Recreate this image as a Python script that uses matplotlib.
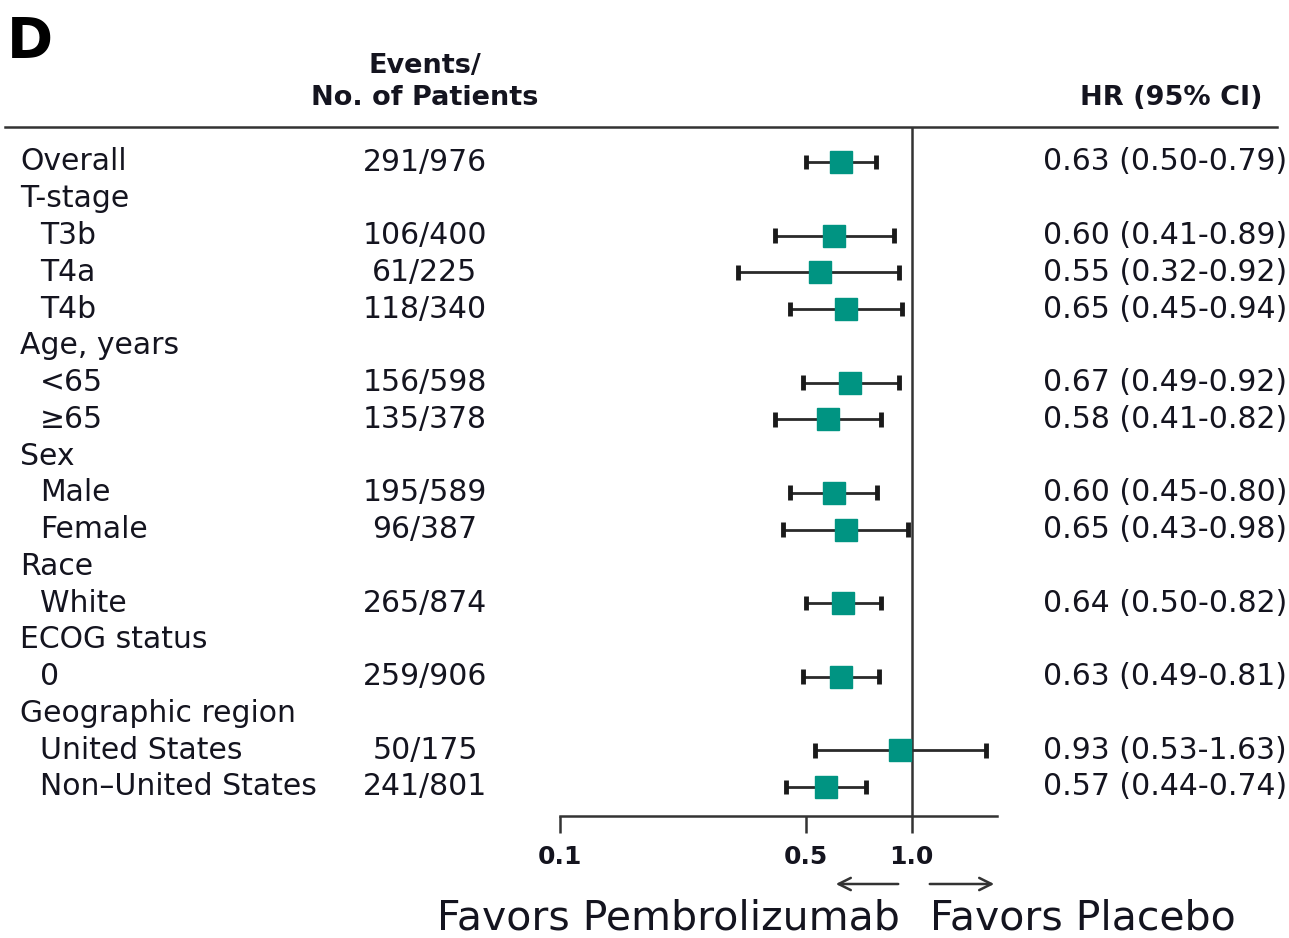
import numpy as np
import matplotlib
matplotlib.use("Agg")
import matplotlib.pyplot as plt

plt.rcParams['font.family'] = ['DejaVu Sans']

# rows of the forest plot (None = group heading without estimate)
labels = ["Overall", "T-stage", "T3b", "T4a", "T4b", "Age, years", "<65", "\u226565",
          "Sex", "Male", "Female", "Race", "White", "ECOG status", "0",
          "Geographic region", "United States", "Non\u2013United States"]
indent = [0, 0, 1, 1, 1, 0, 1, 1, 0, 1, 1, 0, 1, 0, 1, 0, 1, 1]
events = ["291/976", "", "106/400", "61/225", "118/340", "", "156/598", "135/378",
          "", "195/589", "96/387", "", "265/874", "", "259/906", "", "50/175", "241/801"]
hr = [0.63, None, 0.60, 0.55, 0.65, None, 0.67, 0.58, None, 0.60, 0.65, None, 0.64,
      None, 0.63, None, 0.93, 0.57]
lo = [0.50, None, 0.41, 0.32, 0.45, None, 0.49, 0.41, None, 0.45, 0.43, None, 0.50,
      None, 0.49, None, 0.53, 0.44]
hi = [0.79, None, 0.89, 0.92, 0.94, None, 0.92, 0.82, None, 0.80, 0.98, None, 0.82,
      None, 0.81, None, 1.63, 0.74]

W, H = 1289, 938
fig = plt.figure(figsize=(W / 100, H / 100), dpi=100)

# full-figure axes in pixel units for the text columns
tx = fig.add_axes([0, 0, 1, 1])
tx.set_xlim(0, W)
tx.set_ylim(H, 0)
tx.axis("off")

row0, step = 162, 36.76
ink = "#14141f"
fs = 21.5

tx.text(7, 42, "D", fontsize=40, fontweight="bold", va="center", ha="left", color="black")
tx.text(425, 66, "Events/", fontsize=19.5, fontweight="bold", ha="center", va="center", color=ink)
tx.text(425, 98, "No. of Patients", fontsize=19.5, fontweight="bold", ha="center", va="center", color=ink)
tx.text(1262, 98, "HR (95% CI)", fontsize=19.5, fontweight="bold", ha="right", va="center", color=ink)
tx.plot([5, 1277], [127, 127], color="#333333", lw=1.8)

for i, lab in enumerate(labels):
    y = row0 + i * step
    tx.text(20 + 20 * indent[i], y, lab, fontsize=fs, ha="left", va="center", color=ink)
    if events[i]:
        tx.text(425, y, events[i], fontsize=fs, ha="center", va="center", color=ink)
    if hr[i] is not None:
        tx.text(1287, y, f"{hr[i]:.2f} ({lo[i]:.2f}-{hi[i]:.2f})", fontsize=fs,
                ha="right", va="center", color=ink)

# forest axes: log scale, 0.1 .. 1.75
x0, x1 = 560, 997
ytop, ybot = 127, 816
ax = fig.add_axes([x0 / W, 1 - ybot / H, (x1 - x0) / W, (ybot - ytop) / H])
ax.set_xscale("log")
ax.set_xlim(0.1, 1.75)
ax.set_ylim((ybot - row0) / step, (ytop - row0) / step)
ax.patch.set_alpha(0)
for s in ["left", "right", "top"]:
    ax.spines[s].set_visible(False)
ax.spines["bottom"].set_linewidth(1.8)
ax.spines["bottom"].set_color("#333333")
ax.set_yticks([])
ax.set_xticks([0.1, 0.5, 1.0])
ax.set_xticklabels(["0.1", "0.5", "1.0"], fontsize=18, fontweight="bold", color=ink)
ax.xaxis.set_minor_locator(matplotlib.ticker.NullLocator())
ax.tick_params(axis="x", direction="out", length=12, width=1.8, color="#333333", pad=9)
ax.axvline(1.0, color="#333333", lw=1.8)

for i in range(len(labels)):
    if hr[i] is None:
        continue
    ax.plot([lo[i], hi[i]], [i, i], color="#2a2a2a", lw=2)
    ax.plot([lo[i], lo[i]], [i - 0.2, i + 0.2], color="#1a1a1a", lw=3.5, solid_capstyle="butt")
    ax.plot([hi[i], hi[i]], [i - 0.2, i + 0.2], color="#1a1a1a", lw=3.5, solid_capstyle="butt")
    ax.plot(hr[i], i, marker="s", ms=15.5, color="#009482", mec="#009482")

# direction arrows and captions
tx.annotate("", xy=(833, 884), xytext=(901, 884),
            arrowprops=dict(arrowstyle="->", color="#333333", lw=1.8, mutation_scale=22))
tx.annotate("", xy=(997, 884), xytext=(927, 884),
            arrowprops=dict(arrowstyle="->", color="#333333", lw=1.8, mutation_scale=22))
tx.text(900, 919, "Favors Pembrolizumab", fontsize=29.5, ha="right", va="center", color=ink)
tx.text(930, 919, "Favors Placebo", fontsize=29.5, ha="left", va="center", color=ink)

fig.savefig("out.png", dpi=100)
